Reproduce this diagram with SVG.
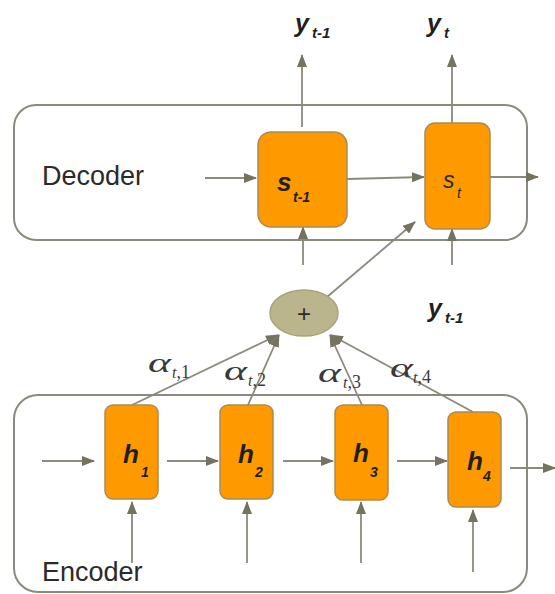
<svg xmlns="http://www.w3.org/2000/svg" width="555" height="594" viewBox="0 0 555 594">
<defs>
<marker id="ah" markerWidth="13" markerHeight="10" refX="12" refY="5" orient="auto" markerUnits="userSpaceOnUse">
<path d="M0,0 L13,5 L0,10 Z" fill="#75735f"/>
</marker>
<style>
.frame{fill:none;stroke:#8c8a7c;stroke-width:2}
.cell{fill:#ff9900;stroke:#a98c55;stroke-width:1.5}
.conn{fill:none;stroke:#8c8a7c;stroke-width:1.8;marker-end:url(#ah)}
.lab{font-family:"Liberation Sans",Arial,sans-serif;fill:#2a2a2a}
.var{font-family:"Liberation Sans",Arial,sans-serif;font-weight:bold;font-style:italic;fill:#1f1f1f}
.alpha{font-family:"Liberation Serif","Times New Roman",serif;font-style:italic;fill:#3a3a3a}
.sub{font-family:"Liberation Serif","Times New Roman",serif;fill:#3a3a3a}
</style>
</defs>
<rect width="555" height="594" fill="#ffffff"/>

<g id="decoder">
<rect class="frame" x="14" y="105" width="513" height="135" rx="22"/>
<text class="lab" x="42" y="185" font-size="27">Decoder</text>
</g>
<g id="encoder">
<rect class="frame" x="14" y="395" width="513" height="197" rx="24"/>
<text class="lab" x="42" y="581" font-size="27">Encoder</text>
</g>

<g id="connectors">
<line class="conn" x1="205" y1="178" x2="256" y2="178"/>
<line class="conn" x1="347" y1="179" x2="424" y2="177"/>
<line class="conn" x1="490" y1="177" x2="538" y2="177"/>
<line class="conn" x1="302" y1="127" x2="302" y2="55"/>
<line class="conn" x1="452" y1="123" x2="452" y2="55"/>
<line class="conn" x1="303" y1="265" x2="303" y2="227"/>
<line class="conn" x1="452" y1="265" x2="452" y2="229"/>
<line class="conn" x1="327" y1="297" x2="415" y2="222"/>
<line class="conn" x1="132" y1="405" x2="278" y2="335"/>
<line class="conn" x1="248" y1="405" x2="279" y2="335"/>
<line class="conn" x1="362" y1="405" x2="330" y2="335"/>
<line class="conn" x1="473" y1="412" x2="331" y2="335"/>
<line class="conn" x1="42" y1="461" x2="94" y2="461"/>
<line class="conn" x1="167" y1="461" x2="218" y2="461"/>
<line class="conn" x1="283" y1="461" x2="333" y2="461"/>
<line class="conn" x1="397" y1="461" x2="447" y2="461"/>
<line class="conn" x1="510" y1="468" x2="555" y2="468"/>
<line class="conn" x1="132" y1="563" x2="132" y2="502"/>
<line class="conn" x1="247" y1="563" x2="247" y2="502"/>
<line class="conn" x1="361" y1="563" x2="361" y2="502"/>
<line class="conn" x1="473" y1="572" x2="473" y2="510"/>
</g>

<g id="s_prev">
<rect class="cell" x="258" y="132" width="89" height="95" rx="13"/>
<text class="var" x="277" y="191" font-size="26">s</text>
<text class="var" x="293" y="202" font-size="14">t-1</text>
</g>
<g id="s_t">
<rect class="cell" x="425" y="123" width="65" height="106" rx="10"/>
<text class="lab" x="443" y="188" font-size="23" font-style="italic" fill="#4a4a2a">s</text>
<text class="lab" x="457" y="198" font-size="14" font-style="italic" fill="#4a4a2a">t</text>
</g>

<g id="sum">
<ellipse cx="304" cy="313" rx="34" ry="23" fill="#bab58c" stroke="#a7a37c" stroke-width="1.5"/>
<text class="lab" x="304" y="322" font-size="24" text-anchor="middle" fill="#222">+</text>
</g>

<g id="h1">
<rect class="cell" x="105" y="405" width="53" height="94" rx="8"/>
<text class="var" x="123" y="463" font-size="26">h</text>
<text class="var" x="141" y="477" font-size="14">1</text>
</g>
<g id="h2">
<rect class="cell" x="220" y="405" width="53" height="94" rx="8"/>
<text class="var" x="238" y="463" font-size="26">h</text>
<text class="var" x="255" y="477" font-size="14">2</text>
</g>
<g id="h3">
<rect class="cell" x="335" y="405" width="53" height="95" rx="8"/>
<text class="var" x="353" y="462" font-size="26">h</text>
<text class="var" x="370" y="477" font-size="14">3</text>
</g>
<g id="h4">
<rect class="cell" x="448" y="412" width="53" height="95" rx="8"/>
<text class="var" x="467" y="470" font-size="26">h</text>
<text class="var" x="483" y="481" font-size="14">4</text>
</g>

<g id="labels">
<text class="var" x="295" y="32" font-size="25">y</text>
<text class="var" x="312" y="38" font-size="15">t-1</text>
<text class="var" x="427" y="32" font-size="25">y</text>
<text class="var" x="444" y="38" font-size="15">t</text>
<text class="var" x="428" y="317" font-size="25">y</text>
<text class="var" x="445" y="323" font-size="15">t-1</text>

<text class="alpha" x="148" y="372" font-size="28" textLength="23" lengthAdjust="spacingAndGlyphs">α</text>
<text x="172" y="378" font-size="18"><tspan class="alpha" font-size="16">t</tspan><tspan class="sub">,1</tspan></text>
<text class="alpha" x="224" y="380" font-size="28" textLength="23" lengthAdjust="spacingAndGlyphs">α</text>
<text x="248" y="386" font-size="18"><tspan class="alpha" font-size="16">t</tspan><tspan class="sub">,2</tspan></text>
<text class="alpha" x="318" y="382" font-size="28" textLength="23" lengthAdjust="spacingAndGlyphs">α</text>
<text x="343" y="388" font-size="18"><tspan class="alpha" font-size="16">t</tspan><tspan class="sub">,3</tspan></text>
<text class="alpha" x="390" y="377" font-size="28" textLength="23" lengthAdjust="spacingAndGlyphs">α</text>
<text x="413" y="383" font-size="18"><tspan class="alpha" font-size="16">t</tspan><tspan class="sub">,4</tspan></text>
</g>
</svg>
